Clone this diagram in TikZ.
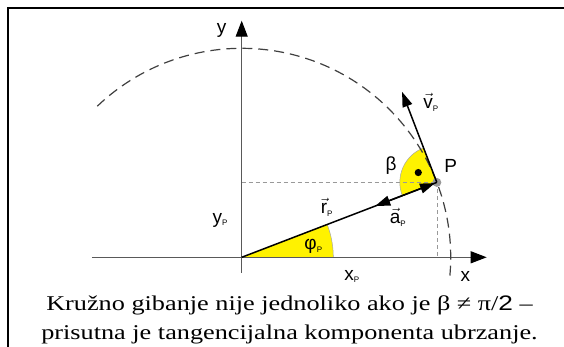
\documentclass[tikz,border=0pt]{standalone}
\usepackage{amsmath}
\usepackage{fontspec}
\setmainfont{Liberation Serif}
\setsansfont{Liberation Sans}
\usetikzlibrary{arrows.meta,calc}

\newcommand{\subP}{\raisebox{-2.5pt}{\fontsize{8}{8}\selectfont P}}
\newcommand{\vecl}[1]{$\vec{\text{#1}}$\subP}
\newcommand{\wide}[1]{\scalebox{1.25}[1]{#1}}

\begin{document}
\begin{tikzpicture}[x=1pt,y=1pt,font=\sffamily\fontsize{19}{19}\selectfont,
  axis/.style={draw=black!65, line width=1.1pt, -{Triangle[length=16pt,width=12pt,color=black]}},
  vecline/.style={line width=1.5pt, -{Triangle[length=15pt,width=10pt]}},
  guide/.style={draw=black!40, line width=0.6pt, dash pattern=on 4pt off 3pt},
  path/.style={draw=black!75, line width=1.2pt, dash pattern=on 10pt off 6pt},
  wedge/.style={fill=yellow},
  lab/.style={inner sep=0pt}]
\useasboundingbox (-241.7,-89.7) rectangle (322.3,257.3);
% frame
\draw[line width=2pt] (-233.4,-89.7) -- (-233.4,249) -- (322.3,249);

\coordinate (O) at (0,0);
\coordinate (P) at (21:209);
\coordinate (xP) at (P |- O);
\coordinate (yP) at (O |- P);
\coordinate (xs) at (-149.7,0);
\coordinate (xe) at (245,0);
\coordinate (ys) at (0,-15.7);
\coordinate (ye) at (0,236.6);
\coordinate (A) at ($(P)+(201:66)$);
\coordinate (V) at ($(P)+(111:97)$);

% angles
\fill[wedge] (O) -- (0:91.6) arc (0:21:91.6) -- cycle;
\draw[black!35, line width=0.5pt] (0:91.6) arc (0:21:91.6);
\fill[wedge] (P) -- ($(P)+(111:37)$) arc (111:201:37) -- cycle;
\draw[black!35, line width=0.5pt] ($(P)+(111:37)$) arc (111:201:37);
\fill ($(P)+(152:21)$) circle (3.6pt);

% projections
\draw[guide] (yP) -- (P);
\draw[guide] (P) -- (xP);

% axes
\draw[axis] (xs) -- (xe);
\draw[axis] (ys) -- (ye);

% circle
\draw[path] (-5:209) arc (-5:135:209);

% point and vectors
\node[circle, fill=black!40, minimum size=9pt, inner sep=0pt] (Pdot) at (P) {};
\draw[vecline, shorten >=2pt] (O) -- (P);
\draw[vecline] (P) -- (A);
\draw[vecline] (P) -- (V);

% labels
\node[lab] (ly) at (-20,227.3) {y};
\node[lab] (lx) at (223.7,-18.7) {x};
\node[lab] (lP) at (209,91.5) {P};
\node[lab] (lb) at (149.3,91.6) {β};
\node[lab] (lv) at (189,155) {\vecl{v}};
\node[lab] (lr) at (85,50) {\vecl{r}};
\node[lab] (la) at (156,40) {\vecl{a}};
\node[lab] (lphi) at (71.6,10.6) {φ\subP};
\node[lab] (lyP) at (-21.7,37.3) {y\subP};
\node[lab] (lxP) at (110,-19.4) {x\subP};

% caption
\node[font=\rmfamily\fontsize{21}{29}\selectfont, align=center] (cap) at (47.8,-62.2)
  {\wide{Kružno gibanje nije jednoliko ako je β ≠ π/{\sffamily 2} –}\\
   \wide{prisutna je tangencijalna komponenta ubrzanje.}};
\end{tikzpicture}
\end{document}
